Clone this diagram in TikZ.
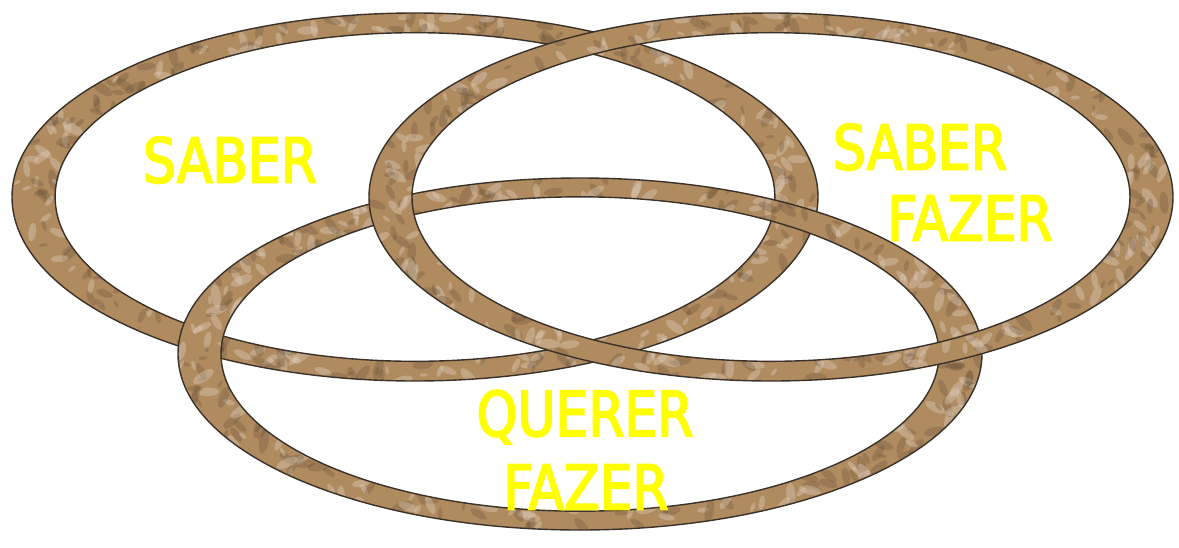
\documentclass[tikz,border=0pt]{standalone}
\usepackage{fontspec}
\newfontfamily\labelfont[FakeStretch=0.84, FakeBold=3]{DejaVu Sans}
\usetikzlibrary{positioning}
\definecolor{paper}{HTML}{B08B60}
\definecolor{crease}{HTML}{3A3128}
\definecolor{label}{HTML}{FFFF00}

\begin{document}
\begin{tikzpicture}[x=0.5pt, y=-0.5pt,
  ringfill/.style={fill=paper, even odd rule},
  ringedge/.style={draw=crease, line width=0.7pt},
  fold/.style={fill=paper!55!black, opacity=0.28},
  gloss/.style={fill=paper!40!white, opacity=0.38},
  lab/.style={font=\labelfont\fontsize{30.9}{36}\selectfont, text=label, inner sep=0}]
\useasboundingbox (0,0) rectangle (1179,547);
\newcommand{\ring}[5]{% cx, cy, outer rx, outer ry, seed
  \fill[ringfill] (#1,#2) ellipse[x radius=#3, y radius=#4]
    (#1,#2) ellipse[x radius=0.893*#3, y radius=0.893*#4];
  \begin{scope}[even odd rule]
    \clip (#1,#2) ellipse[x radius=#3, y radius=#4]
      (#1,#2) ellipse[x radius=0.893*#3, y radius=0.893*#4];
    \pgfmathsetseed{#5}
    \foreach \k in {1,...,260}{
      \pgfmathsetmacro{\tang}{rnd*360}
      \pgfmathsetmacro{\trad}{0.89+rnd*0.11}
      \pgfmathsetmacro{\tdir}{rnd*180}
      \pgfmathsetmacro{\tlen}{4+rnd*8}
      \ifodd\k \def\tsty{fold}\else \def\tsty{gloss}\fi
      \fill[\tsty] ({#1+\trad*#3*cos(\tang)}, {#2+\trad*#4*sin(\tang)})
        ellipse[x radius=\tlen, y radius=0.4*\tlen, rotate=\tdir];
    }
  \end{scope}
  \draw[ringedge] (#1,#2) ellipse[x radius=#3, y radius=#4]
    (#1,#2) ellipse[x radius=0.893*#3, y radius=0.893*#4];}
% rings, bottom layer first
\ring{415}{197}{403}{184}{11}
\ring{580}{354}{402}{176}{23}
\ring{771}{197}{402}{184}{37}
% labels
\node[lab] (saberA) at (230,160) {SABER};
\node[lab] (saberB) at (920,147) {SABER};
\node[lab] (fazerB) at (970,218) {FAZER};
\node[lab] (quererC) at (585,417) {QUERER};
\node[lab] (fazerC) at (586,487) {FAZER};
\end{tikzpicture}
\end{document}
